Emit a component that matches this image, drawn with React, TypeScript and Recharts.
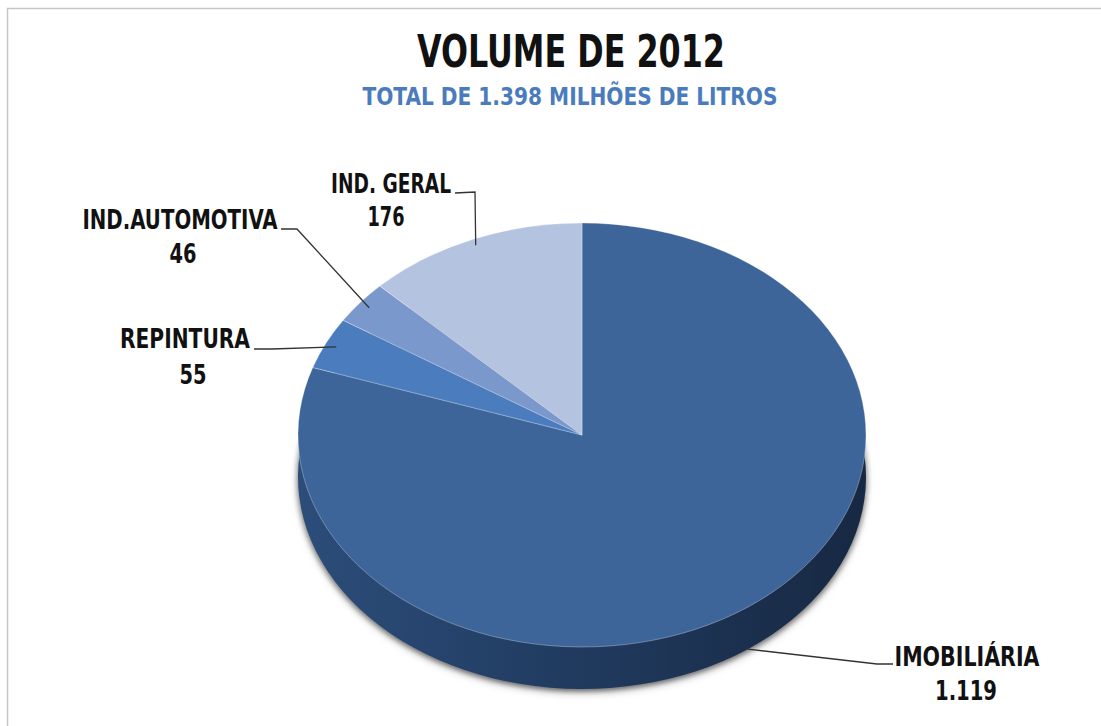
import React from 'react';
import { PieChart, Pie, Cell } from 'recharts';

// volume by segment, millions of litres (2012)
const SEGMENTS = ['IMOBILIÁRIA', 'REPINTURA', 'IND.AUTOMOTIVA', 'IND. GERAL'];
const VOLUMES = [1119, 55, 46, 176];
const TOP_COLORS = ['#3e659a', '#4a7cbe', '#7b98cc', '#b3c3e0'];
const SIDE_COLORS = ['url(#sideGrad)', '#2c4f80', '#4d6796', '#7486a8'];

const TITLE = 'VOLUME DE 2012';
const SUBTITLE = 'TOTAL DE 1.398 MILHÕES DE LITROS';

// pie geometry (ellipse squashed from a circle)
const CX = 582;
const CY = 435;
const RX = 284;
const RY = 212;
const DEPTH = 42;
const SY = RY / RX;

// where each label sits: text centre + width, value centre + width, leader line elbow/end
const LABEL_LAYOUT = [
  { x: 967, y: 666, w: 145, vx: 966, vy: 700, vw: 62, elbow: [877, 664], end: [893, 664], k: 1.0 },
  { x: 185, y: 348, w: 130, vx: 193, vy: 384, vw: 27, elbow: [272, 349], end: [254, 349], k: 0.96 },
  { x: 180, y: 229, w: 195, vx: 183, vy: 263, vw: 27, elbow: [297, 229], end: [281, 229], k: 0.96 },
  { x: 391, y: 193, w: 120, vx: 386, vy: 226, vw: 37, elbow: [475, 192], end: [455, 193], k: 0.97 },
];

const data = SEGMENTS.map((name, i) => ({ name, value: VOLUMES[i] }));

const FONT = "'Liberation Sans Narrow', 'DejaVu Sans Condensed', 'Liberation Sans', sans-serif";

const fmt = (v: number) => String(v).replace(/\B(?=(\d{3})+(?!\d))/g, '.');

const css = `
.pie-top .recharts-pie-sector { transform-origin: ${CX}px ${CY}px; transform: scale(1, ${SY}); }
.pie-side .recharts-pie-sector { transform-origin: ${CX}px ${CY}px; transform: translate(0px, ${DEPTH}px) scale(1, ${SY}); }
.pie-side { filter: drop-shadow(0px 3px 3px rgba(0,0,0,0.35)); }
`;

const renderLabel = (props: any) => {
  const { cx, cy, midAngle, index, name, value } = props;
  const lay = LABEL_LAYOUT[index];
  const rad = (midAngle * Math.PI) / 180;
  const ax = cx + RX * lay.k * Math.cos(rad);
  let ay = cy - RY * lay.k * Math.sin(rad);
  if (Math.sin(rad) < 0) ay += DEPTH; // front side: line touches the wall
  return (
    <g key={`lbl-${index}`}>
      <polyline
        points={`${ax},${ay} ${lay.elbow[0]},${lay.elbow[1]} ${lay.end[0]},${lay.end[1]}`}
        fill="none"
        stroke="#333"
        strokeWidth={1.3}
      />
      <text
        x={lay.x}
        y={lay.y}
        textAnchor="middle"
        fontFamily={FONT}
        fontWeight="bold"
        fontSize={27}
        fill="#111"
        textLength={lay.w}
        lengthAdjust="spacingAndGlyphs"
      >
        {name}
      </text>
      <text
        x={lay.vx}
        y={lay.vy}
        textAnchor="middle"
        fontFamily={FONT}
        fontWeight="bold"
        fontSize={27}
        fill="#111"
        textLength={lay.vw}
        lengthAdjust="spacingAndGlyphs"
      >
        {fmt(value)}
      </text>
    </g>
  );
};

export default function App() {
  return (
    <div style={{ position: 'absolute', left: 0, top: 0, width: 1101, height: 726, background: '#fff' }}>
      <style>{css}</style>
      <PieChart width={1101} height={726} margin={{ top: 0, right: 0, bottom: 0, left: 0 }}>
        <defs>
          <linearGradient id="sideGrad" x1="0" y1="0" x2="1" y2="0">
            <stop offset="0%" stopColor="#2c4d7a" />
            <stop offset="45%" stopColor="#213c61" />
            <stop offset="100%" stopColor="#172842" />
          </linearGradient>
        </defs>
        <path d="M7.5,726 L7.5,8.5 L1101,8.5" fill="none" stroke="#c6c6c6" strokeWidth={1.5} />
        <text
          x={571}
          y={67}
          textAnchor="middle"
          fontFamily={FONT}
          fontWeight="bold"
          fontSize={45}
          fill="#111"
          textLength={308}
          lengthAdjust="spacingAndGlyphs"
        >
          {TITLE}
        </text>
        <text
          x={570}
          y={105}
          textAnchor="middle"
          fontFamily={FONT}
          fontWeight="bold"
          fontSize={24}
          fill="#4a7bbd"
          textLength={415}
          lengthAdjust="spacingAndGlyphs"
        >
          {SUBTITLE}
        </text>
        <Pie
          className="pie-side"
          data={data}
          dataKey="value"
          nameKey="name"
          cx={CX}
          cy={CY}
          outerRadius={RX}
          startAngle={90}
          endAngle={-270}
          stroke="none"
          isAnimationActive={false}
        >
          {data.map((d, i) => (
            <Cell key={`side-${d.name}`} fill={SIDE_COLORS[i]} />
          ))}
        </Pie>
        <Pie
          className="pie-top"
          data={data}
          dataKey="value"
          nameKey="name"
          cx={CX}
          cy={CY}
          outerRadius={RX}
          startAngle={90}
          endAngle={-270}
          stroke="rgba(255,255,255,0.35)"
          strokeWidth={1}
          label={renderLabel}
          labelLine={false}
          isAnimationActive={false}
        >
          {data.map((d, i) => (
            <Cell key={`top-${d.name}`} fill={TOP_COLORS[i]} />
          ))}
        </Pie>
      </PieChart>
    </div>
  );
}
